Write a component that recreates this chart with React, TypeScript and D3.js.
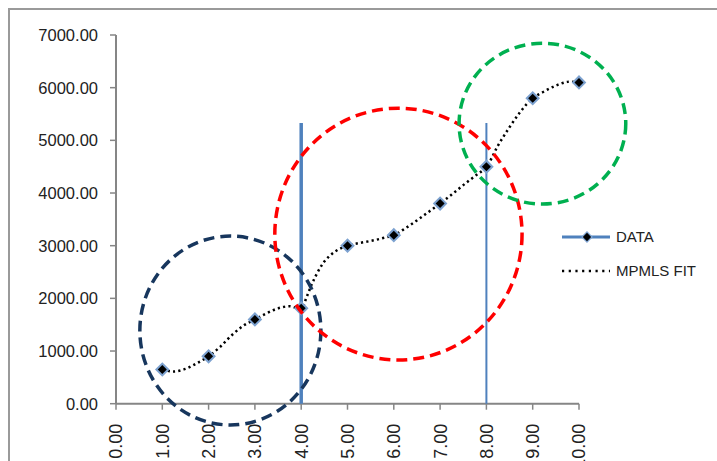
import React from 'react';
import * as d3 from 'd3';

const width = 717;
const height = 461;

// measured data points
const dataX = [1, 2, 3, 4, 5, 6, 7, 8, 9, 10];
const dataY = [650, 900, 1600, 1810, 3000, 3200, 3800, 4500, 5800, 6100];

// fit curve
const fitX = [1, 1.25, 1.5, 1.75, 2, 2.25, 2.5, 2.75, 3, 3.25, 3.5, 3.75, 4, 4.12, 4.25, 4.5, 4.75, 5, 5.25, 5.5, 5.75, 6, 6.25, 6.5, 6.75, 7, 7.25, 7.5, 7.75, 8, 8.25, 8.5, 8.75, 9, 9.25, 9.5, 9.75, 10];
const fitY = [650, 610, 660, 770, 900, 1080, 1300, 1480, 1600, 1715, 1810, 1850, 1810, 2030, 2310, 2700, 2900, 3000, 3050, 3090, 3140, 3200, 3330, 3480, 3640, 3800, 3970, 4150, 4320, 4500, 4900, 5250, 5560, 5800, 5930, 6040, 6110, 6100];

const xTicks = [0, 1, 2, 3, 4, 5, 6, 7, 8, 9, 10];
const yTicks = [0, 1000, 2000, 3000, 4000, 5000, 6000, 7000];

// vertical split lines
const splitX = [4, 8];
const splitTop = 5330;

// dashed circles (data units)
const circleNames = ['navy', 'red', 'green'];
const circleCx = [2.47, 6.1, 9.21];
const circleCy = [1389, 3220, 5317];
const circleRx = [1.955, 2.67, 1.8];
const circleRy = [1793, 2390, 1527];
const circleColors = ['#17365D', '#FF0000', '#00B050'];

const legendLabels = ['DATA', 'MPMLS FIT'];

const font = '"Liberation Sans", Arial, sans-serif';

export default function App() {
  const x = d3.scaleLinear().domain([0, 10]).range([116, 579]);
  const y = d3.scaleLinear().domain([0, 7000]).range([403.7, 35]);

  const fitLine = d3
    .line<number>()
    .x((d, i) => x(fitX[i]))
    .y((d) => y(d))
    .curve(d3.curveCatmullRom.alpha(0.5));

  const diamond = d3.symbol().type(d3.symbolSquare).size(70)();

  return (
    <svg width={width} height={height} style={{ position: 'absolute', left: 0, top: 0, background: '#fff' }}>
      <rect x={0} y={0} width={width} height={height} fill="#fff" />
      {/* chart frame */}
      <path d={`M9,${height} L9,9 L${width},9`} fill="none" stroke="#9a9a9a" strokeWidth={2} />

      {/* axes */}
      <line x1={x(0)} x2={x(0)} y1={y(7000)} y2={y(0)} stroke="#868686" strokeWidth={2} />
      <line x1={x(0)} x2={x(10)} y1={y(0)} y2={y(0)} stroke="#868686" strokeWidth={2} />
      {yTicks.map((t) => (
        <g key={t}>
          <line x1={x(0) - 6} x2={x(0)} y1={y(t)} y2={y(t)} stroke="#868686" strokeWidth={1.5} />
          <text
            x={x(0) - 18}
            y={y(t)}
            dy="0.36em"
            textAnchor="end"
            fontFamily={font}
            fontSize={16.5}
            fill="#222"
          >
            {t.toFixed(2)}
          </text>
        </g>
      ))}
      {xTicks.map((t) => (
        <g key={t}>
          <line x1={x(t)} x2={x(t)} y1={y(0)} y2={y(0) + 6} stroke="#868686" strokeWidth={1.5} />
          <text
            transform={`translate(${x(t)},${y(0) + 20}) rotate(-90)`}
            dy="0.36em"
            textAnchor="end"
            fontFamily={font}
            fontSize={18}
            fill="#222"
          >
            {t.toFixed(2)}
          </text>
        </g>
      ))}

      {/* split lines */}
      {splitX.map((s, i) => (
        <line
          key={s}
          x1={x(s)}
          x2={x(s)}
          y1={y(splitTop)}
          y2={y(0)}
          stroke="#4F81BD"
          strokeWidth={i === 0 ? 3.5 : 2}
        />
      ))}

      {/* fit */}
      <path
        d={fitLine(fitY) || ''}
        fill="none"
        stroke="#000"
        strokeWidth={2.5}
        strokeDasharray="2.2 3.2"
      />

      {/* data markers */}
      {dataY.map((v, i) => (
        <path
          key={i}
          d={diamond || ''}
          transform={`translate(${x(dataX[i])},${y(v)}) rotate(45)`}
          fill="#000"
          stroke="#7DA2D0"
          strokeWidth={2}
        />
      ))}

      {/* circles */}
      {circleNames.map((n, i) => (
        <ellipse
          key={n}
          cx={x(circleCx[i])}
          cy={y(circleCy[i])}
          rx={x(circleRx[i]) - x(0)}
          ry={y(0) - y(circleRy[i])}
          fill="none"
          stroke={circleColors[i]}
          strokeWidth={3.5}
          strokeDasharray="11 6"
        />
      ))}

      {/* legend */}
      <g fontFamily={font} fontSize={15} fill="#222">
        <line x1={562} x2={610} y1={237} y2={237} stroke="#4F81BD" strokeWidth={3} />
        <path d={diamond || ''} transform="translate(587,237) rotate(45) scale(0.85)" fill="#000" stroke="#7DA2D0" strokeWidth={1.5} />
        <text x={616} y={237} dy="0.36em">{legendLabels[0]}</text>
        <line x1={562} x2={610} y1={271} y2={271} stroke="#000" strokeWidth={2.5} strokeDasharray="2.2 4.5" />
        <text x={616} y={271} dy="0.36em">{legendLabels[1]}</text>
      </g>
    </svg>
  );
}
